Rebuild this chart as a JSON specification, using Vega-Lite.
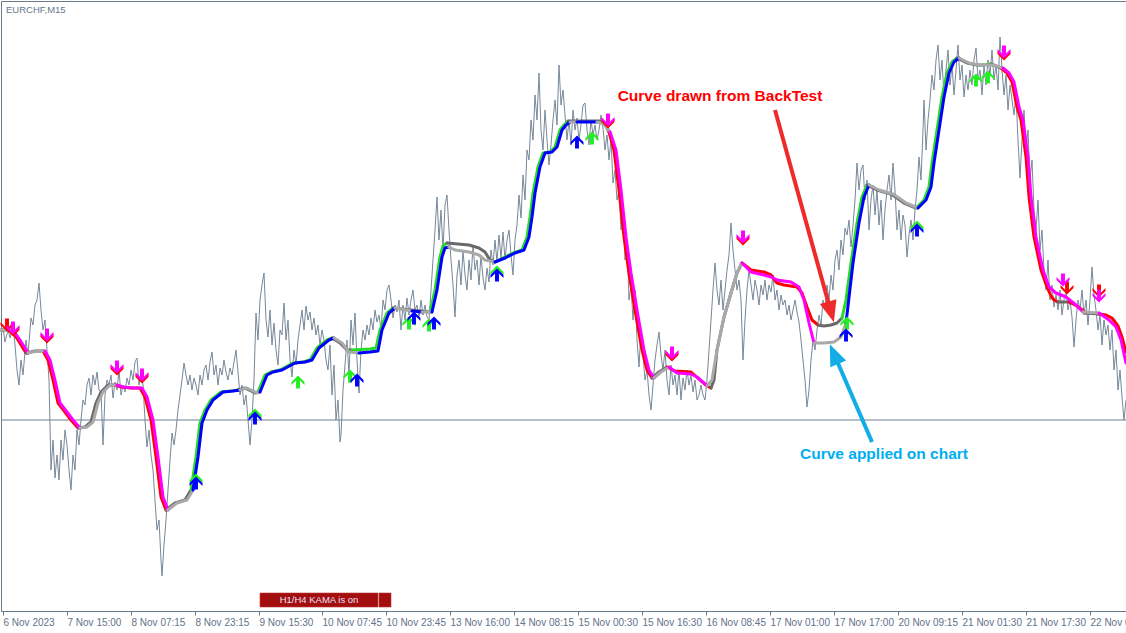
{
"$schema": "https://vega.github.io/schema/vega-lite/v6.json",
"width": 1125, "height": 610,
"autosize": {"type": "none"},
"padding": {"left": 1, "top": 1, "right": 0, "bottom": 22},
"background": "#ffffff",
"config": {"view": {"stroke": "#6c7b8b", "strokeWidth": 1}},
"resolve": {"scale": {"color": "independent"}},
"datasets": {
"levels": [{"x":1,"price": 0.96191}],
"price": [
{"x":1,"price":0.96276},{"x":3,"price":0.96283},{"x":5,"price":0.96269},{"x":8,"price":0.96281},{"x":10,"price":0.96273},{"x":13,"price":0.96285},{"x":15,"price":0.96266},{"x":17,"price":0.96241},{"x":19,"price":0.96226},{"x":21,"price":0.96251},{"x":23,"price":0.96236},{"x":26,"price":0.96271},{"x":28,"price":0.96256},{"x":31,"price":0.96293},{"x":33,"price":0.96286},{"x":35,"price":0.96306},{"x":37,"price":0.96311},{"x":39,"price":0.96328},{"x":41,"price":0.96301},{"x":43,"price":0.96281},{"x":45,"price":0.96291},{"x":47,"price":0.96261},{"x":49,"price":0.96231},{"x":51,"price":0.96141},{"x":53,"price":0.96171},{"x":55,"price":0.96133},{"x":57,"price":0.96156},{"x":59,"price":0.96131},{"x":61,"price":0.96171},{"x":63,"price":0.96151},{"x":65,"price":0.96181},{"x":67,"price":0.96166},{"x":69,"price":0.96141},{"x":71,"price":0.96121},{"x":73,"price":0.96156},{"x":75,"price":0.96141},{"x":77,"price":0.96181},{"x":79,"price":0.96166},{"x":81,"price":0.96191},{"x":83,"price":0.96211},{"x":85,"price":0.96206},{"x":87,"price":0.96226},{"x":89,"price":0.96233},{"x":91,"price":0.96216},{"x":93,"price":0.96236},{"x":95,"price":0.96226},{"x":97,"price":0.96239},{"x":99,"price":0.96221},{"x":101,"price":0.96219},{"x":103,"price":0.96166},{"x":105,"price":0.96216},{"x":107,"price":0.96231},{"x":109,"price":0.96226},{"x":111,"price":0.96236},{"x":113,"price":0.96213},{"x":115,"price":0.96229},{"x":117,"price":0.96221},{"x":119,"price":0.96241},{"x":121,"price":0.96216},{"x":123,"price":0.96226},{"x":125,"price":0.96219},{"x":127,"price":0.96233},{"x":129,"price":0.96226},{"x":131,"price":0.96241},{"x":133,"price":0.96231},{"x":135,"price":0.96249},{"x":137,"price":0.96253},{"x":139,"price":0.96226},{"x":141,"price":0.96239},{"x":143,"price":0.96226},{"x":145,"price":0.96191},{"x":147,"price":0.96164},{"x":149,"price":0.96181},{"x":151,"price":0.96156},{"x":153,"price":0.96141},{"x":155,"price":0.96111},{"x":157,"price":0.96081},{"x":159,"price":0.96091},{"x":161,"price":0.96051},{"x":162,"price":0.96035},{"x":164,"price":0.96066},{"x":166,"price":0.96091},{"x":168,"price":0.96121},{"x":170,"price":0.96151},{"x":172,"price":0.96178},{"x":174,"price":0.96166},{"x":176,"price":0.96181},{"x":178,"price":0.96201},{"x":180,"price":0.96216},{"x":182,"price":0.96231},{"x":184,"price":0.96248},{"x":186,"price":0.96236},{"x":188,"price":0.96226},{"x":190,"price":0.96236},{"x":192,"price":0.96221},{"x":194,"price":0.96233},{"x":196,"price":0.96226},{"x":198,"price":0.96216},{"x":200,"price":0.96236},{"x":202,"price":0.96226},{"x":204,"price":0.96241},{"x":206,"price":0.96246},{"x":208,"price":0.96231},{"x":210,"price":0.96249},{"x":212,"price":0.96259},{"x":214,"price":0.96236},{"x":216,"price":0.96246},{"x":218,"price":0.96226},{"x":220,"price":0.96243},{"x":222,"price":0.96236},{"x":224,"price":0.96251},{"x":226,"price":0.96239},{"x":228,"price":0.96231},{"x":230,"price":0.96243},{"x":232,"price":0.96236},{"x":234,"price":0.96249},{"x":236,"price":0.96261},{"x":238,"price":0.96239},{"x":240,"price":0.96216},{"x":242,"price":0.96226},{"x":244,"price":0.96206},{"x":246,"price":0.96216},{"x":248,"price":0.96191},{"x":250,"price":0.96166},{"x":252,"price":0.96191},{"x":254,"price":0.96231},{"x":256,"price":0.96298},{"x":258,"price":0.96271},{"x":260,"price":0.96311},{"x":262,"price":0.96326},{"x":264,"price":0.96338},{"x":266,"price":0.96291},{"x":268,"price":0.96274},{"x":270,"price":0.96301},{"x":272,"price":0.96266},{"x":274,"price":0.96288},{"x":276,"price":0.96261},{"x":278,"price":0.96246},{"x":280,"price":0.96281},
{"x":282,"price":0.96276},{"x":284,"price":0.96308},{"x":286,"price":0.96271},{"x":288,"price":0.96291},{"x":290,"price":0.96251},{"x":292,"price":0.96234},{"x":294,"price":0.96261},{"x":296,"price":0.96246},{"x":298,"price":0.96271},{"x":300,"price":0.96286},{"x":302,"price":0.96301},{"x":304,"price":0.96281},{"x":306,"price":0.96305},{"x":308,"price":0.96291},{"x":310,"price":0.96299},{"x":312,"price":0.96281},{"x":314,"price":0.96293},{"x":316,"price":0.96276},{"x":318,"price":0.96286},{"x":320,"price":0.96266},{"x":322,"price":0.96281},{"x":324,"price":0.96271},{"x":326,"price":0.96251},{"x":328,"price":0.96241},{"x":330,"price":0.96266},{"x":332,"price":0.96216},{"x":334,"price":0.96246},{"x":336,"price":0.96191},{"x":338,"price":0.96211},{"x":340,"price":0.96169},{"x":341,"price":0.96176},{"x":343,"price":0.96221},{"x":345,"price":0.96246},{"x":347,"price":0.96271},{"x":349,"price":0.96236},{"x":351,"price":0.96291},{"x":353,"price":0.96266},{"x":355,"price":0.96298},{"x":357,"price":0.96251},{"x":359,"price":0.96218},{"x":361,"price":0.96261},{"x":363,"price":0.96281},{"x":365,"price":0.96271},{"x":367,"price":0.96286},{"x":369,"price":0.96276},{"x":371,"price":0.96293},{"x":373,"price":0.96281},{"x":375,"price":0.96301},{"x":377,"price":0.96289},{"x":379,"price":0.96296},{"x":381,"price":0.96281},{"x":383,"price":0.96311},{"x":385,"price":0.96301},{"x":387,"price":0.96321},{"x":389,"price":0.96326},{"x":391,"price":0.96311},{"x":393,"price":0.96293},{"x":395,"price":0.96306},{"x":397,"price":0.96299},{"x":399,"price":0.96311},{"x":401,"price":0.96281},{"x":403,"price":0.96306},{"x":405,"price":0.96291},{"x":407,"price":0.96313},{"x":409,"price":0.96296},{"x":411,"price":0.96311},{"x":413,"price":0.96321},{"x":415,"price":0.96301},{"x":417,"price":0.96306},{"x":419,"price":0.96293},{"x":421,"price":0.96311},{"x":423,"price":0.96296},{"x":425,"price":0.96306},{"x":427,"price":0.96294},{"x":429,"price":0.96291},{"x":431,"price":0.96321},{"x":433,"price":0.96351},{"x":435,"price":0.96381},{"x":437,"price":0.96414},{"x":439,"price":0.96371},{"x":441,"price":0.96401},{"x":443,"price":0.96361},{"x":445,"price":0.96406},{"x":447,"price":0.96416},{"x":449,"price":0.96381},{"x":451,"price":0.96351},{"x":453,"price":0.96326},{"x":455,"price":0.96294},{"x":457,"price":0.96336},{"x":459,"price":0.96351},{"x":461,"price":0.96326},{"x":463,"price":0.96361},{"x":465,"price":0.96336},{"x":467,"price":0.96321},{"x":469,"price":0.96351},{"x":471,"price":0.96331},{"x":473,"price":0.96366},{"x":475,"price":0.96341},{"x":477,"price":0.96351},{"x":479,"price":0.96326},{"x":481,"price":0.96356},{"x":483,"price":0.96333},{"x":485,"price":0.96321},{"x":487,"price":0.96343},{"x":489,"price":0.96329},{"x":491,"price":0.96361},{"x":493,"price":0.96346},{"x":495,"price":0.96371},{"x":497,"price":0.96349},{"x":499,"price":0.96376},{"x":501,"price":0.96353},{"x":503,"price":0.96379},{"x":505,"price":0.96351},{"x":507,"price":0.96371},{"x":509,"price":0.96381},{"x":511,"price":0.96356},{"x":513,"price":0.96336},{"x":515,"price":0.96371},{"x":517,"price":0.96386},{"x":519,"price":0.96416},{"x":521,"price":0.96393},{"x":523,"price":0.96436},{"x":525,"price":0.96411},{"x":527,"price":0.96461},{"x":529,"price":0.96451},{"x":531,"price":0.96491},{"x":533,"price":0.96471},{"x":535,"price":0.96516},{"x":537,"price":0.96491},{"x":539,"price":0.96538},{"x":541,"price":0.96481},{"x":543,"price":0.96461},{"x":545,"price":0.96501},{"x":547,"price":0.96471},{"x":549,"price":0.96446},{"x":551,"price":0.96466},{"x":553,"price":0.96491},{"x":555,"price":0.96511},{"x":557,"price":0.96486},{"x":559,"price":0.96546},{"x":561,"price":0.96506},{"x":563,"price":0.96521},
{"x":565,"price":0.96496},{"x":567,"price":0.96471},{"x":569,"price":0.96491},{"x":571,"price":0.96466},{"x":573,"price":0.96501},{"x":575,"price":0.96481},{"x":577,"price":0.96493},{"x":579,"price":0.96471},{"x":581,"price":0.96486},{"x":583,"price":0.96506},{"x":585,"price":0.96508},{"x":587,"price":0.96481},{"x":589,"price":0.96466},{"x":591,"price":0.96491},{"x":593,"price":0.96476},{"x":595,"price":0.96486},{"x":597,"price":0.96471},{"x":599,"price":0.96481},{"x":601,"price":0.96496},{"x":603,"price":0.96483},{"x":605,"price":0.96461},{"x":607,"price":0.96476},{"x":609,"price":0.96451},{"x":611,"price":0.96471},{"x":613,"price":0.96428},{"x":615,"price":0.96441},{"x":617,"price":0.96411},{"x":619,"price":0.96421},{"x":621,"price":0.96381},{"x":623,"price":0.96396},{"x":625,"price":0.96351},{"x":627,"price":0.96371},{"x":629,"price":0.96311},{"x":631,"price":0.96326},{"x":633,"price":0.96291},{"x":635,"price":0.96321},{"x":637,"price":0.96271},{"x":639,"price":0.96244},{"x":641,"price":0.96281},{"x":643,"price":0.96256},{"x":645,"price":0.96231},{"x":647,"price":0.96241},{"x":649,"price":0.96216},{"x":651,"price":0.96201},{"x":653,"price":0.96226},{"x":655,"price":0.96251},{"x":657,"price":0.96266},{"x":659,"price":0.96279},{"x":661,"price":0.96256},{"x":663,"price":0.96241},{"x":665,"price":0.96261},{"x":667,"price":0.96231},{"x":669,"price":0.96216},{"x":671,"price":0.96246},{"x":673,"price":0.96226},{"x":675,"price":0.96236},{"x":677,"price":0.96216},{"x":679,"price":0.96241},{"x":681,"price":0.96211},{"x":683,"price":0.96233},{"x":685,"price":0.96221},{"x":687,"price":0.96241},{"x":689,"price":0.96226},{"x":691,"price":0.96236},{"x":693,"price":0.96219},{"x":695,"price":0.96231},{"x":697,"price":0.96211},{"x":699,"price":0.96216},{"x":701,"price":0.96226},{"x":703,"price":0.96216},{"x":705,"price":0.96211},{"x":707,"price":0.96231},{"x":709,"price":0.96261},{"x":711,"price":0.96291},{"x":713,"price":0.96321},{"x":715,"price":0.96348},{"x":717,"price":0.96321},{"x":719,"price":0.96306},{"x":721,"price":0.96331},{"x":723,"price":0.96301},{"x":725,"price":0.96321},{"x":727,"price":0.96341},{"x":729,"price":0.96356},{"x":731,"price":0.96388},{"x":733,"price":0.96361},{"x":735,"price":0.96341},{"x":737,"price":0.96321},{"x":739,"price":0.96331},{"x":741,"price":0.96311},{"x":743,"price":0.96251},{"x":745,"price":0.96291},{"x":747,"price":0.96321},{"x":749,"price":0.96341},{"x":751,"price":0.96326},{"x":753,"price":0.96311},{"x":755,"price":0.96331},{"x":757,"price":0.96321},{"x":759,"price":0.96306},{"x":761,"price":0.96326},{"x":763,"price":0.96316},{"x":765,"price":0.96331},{"x":767,"price":0.96311},{"x":769,"price":0.96326},{"x":771,"price":0.96319},{"x":773,"price":0.96336},{"x":775,"price":0.96311},{"x":777,"price":0.96321},{"x":779,"price":0.96301},{"x":781,"price":0.96316},{"x":783,"price":0.96306},{"x":785,"price":0.96311},{"x":787,"price":0.96296},{"x":789,"price":0.96306},{"x":791,"price":0.96291},{"x":793,"price":0.96301},{"x":795,"price":0.96311},{"x":797,"price":0.96299},{"x":799,"price":0.96289},{"x":801,"price":0.96271},{"x":803,"price":0.96251},{"x":805,"price":0.96231},{"x":807,"price":0.96204},{"x":809,"price":0.96221},{"x":811,"price":0.96251},{"x":813,"price":0.96271},{"x":815,"price":0.96261},{"x":817,"price":0.96281},{"x":819,"price":0.96296},{"x":821,"price":0.96286},{"x":823,"price":0.96311},{"x":825,"price":0.96301},{"x":827,"price":0.96326},{"x":829,"price":0.96311},{"x":831,"price":0.96336},{"x":833,"price":0.96321},{"x":835,"price":0.96351},{"x":837,"price":0.96361},{"x":839,"price":0.96341},{"x":841,"price":0.96371},{"x":843,"price":0.96356},{"x":845,"price":0.96383},
{"x":847,"price":0.96376},{"x":849,"price":0.96391},{"x":851,"price":0.96364},{"x":853,"price":0.96386},{"x":855,"price":0.96411},{"x":857,"price":0.96448},{"x":859,"price":0.96421},{"x":861,"price":0.96441},{"x":863,"price":0.96446},{"x":865,"price":0.96411},{"x":867,"price":0.96431},{"x":869,"price":0.96381},{"x":871,"price":0.96411},{"x":873,"price":0.96426},{"x":875,"price":0.96396},{"x":877,"price":0.96421},{"x":879,"price":0.96386},{"x":881,"price":0.96411},{"x":883,"price":0.96371},{"x":885,"price":0.96401},{"x":887,"price":0.96421},{"x":889,"price":0.96436},{"x":891,"price":0.96411},{"x":893,"price":0.96448},{"x":895,"price":0.96421},{"x":897,"price":0.96381},{"x":899,"price":0.96401},{"x":901,"price":0.96371},{"x":903,"price":0.96396},{"x":905,"price":0.96386},{"x":907,"price":0.96354},{"x":909,"price":0.96376},{"x":911,"price":0.96391},{"x":913,"price":0.96371},{"x":915,"price":0.96401},{"x":917,"price":0.96421},{"x":919,"price":0.96454},{"x":921,"price":0.96431},{"x":923,"price":0.96481},{"x":924,"price":0.96511},{"x":926,"price":0.96461},{"x":928,"price":0.96491},{"x":930,"price":0.96511},{"x":932,"price":0.96536},{"x":934,"price":0.96521},{"x":936,"price":0.96551},{"x":938,"price":0.96566},{"x":940,"price":0.96531},{"x":942,"price":0.96551},{"x":944,"price":0.96514},{"x":946,"price":0.96541},{"x":948,"price":0.96561},{"x":950,"price":0.96526},{"x":952,"price":0.96546},{"x":954,"price":0.96516},{"x":956,"price":0.96541},{"x":958,"price":0.96566},{"x":960,"price":0.96531},{"x":962,"price":0.96546},{"x":964,"price":0.96514},{"x":966,"price":0.96536},{"x":968,"price":0.96521},{"x":970,"price":0.96541},{"x":972,"price":0.96526},{"x":974,"price":0.96551},{"x":976,"price":0.96563},{"x":978,"price":0.96531},{"x":980,"price":0.96541},{"x":982,"price":0.96516},{"x":984,"price":0.96546},{"x":986,"price":0.96526},{"x":988,"price":0.96551},{"x":990,"price":0.96536},{"x":992,"price":0.96561},{"x":994,"price":0.96531},{"x":996,"price":0.96546},{"x":998,"price":0.96521},{"x":1000,"price":0.96574},{"x":1002,"price":0.96541},{"x":1004,"price":0.96516},{"x":1006,"price":0.96536},{"x":1008,"price":0.96501},{"x":1010,"price":0.96526},{"x":1012,"price":0.96511},{"x":1014,"price":0.96496},{"x":1016,"price":0.96516},{"x":1018,"price":0.96471},{"x":1020,"price":0.96433},{"x":1022,"price":0.96471},{"x":1024,"price":0.96501},{"x":1026,"price":0.96461},{"x":1028,"price":0.96481},{"x":1030,"price":0.96431},{"x":1032,"price":0.96451},{"x":1034,"price":0.96401},{"x":1036,"price":0.96381},{"x":1038,"price":0.96411},{"x":1040,"price":0.96361},{"x":1042,"price":0.96381},{"x":1044,"price":0.96341},{"x":1046,"price":0.96321},{"x":1048,"price":0.96351},{"x":1050,"price":0.96311},{"x":1052,"price":0.96326},{"x":1054,"price":0.96304},{"x":1056,"price":0.96316},{"x":1058,"price":0.96301},{"x":1060,"price":0.96321},{"x":1062,"price":0.96296},{"x":1064,"price":0.96311},{"x":1066,"price":0.96321},{"x":1068,"price":0.96301},{"x":1070,"price":0.96311},{"x":1072,"price":0.96294},{"x":1074,"price":0.96264},{"x":1076,"price":0.96291},{"x":1078,"price":0.96311},{"x":1080,"price":0.96301},{"x":1082,"price":0.96321},{"x":1084,"price":0.96296},{"x":1086,"price":0.96311},{"x":1088,"price":0.96286},{"x":1090,"price":0.96311},{"x":1092,"price":0.96344},{"x":1094,"price":0.96316},{"x":1096,"price":0.96301},{"x":1098,"price":0.96281},{"x":1100,"price":0.96296},{"x":1102,"price":0.96266},{"x":1104,"price":0.96291},{"x":1106,"price":0.96276},{"x":1108,"price":0.96286},{"x":1110,"price":0.96261},{"x":1112,"price":0.96281},{"x":1114,"price":0.96241},{"x":1116,"price":0.96261},{"x":1118,"price":0.96221},{"x":1120,"price":0.96241},{"x":1122,"price":0.96214},{"x":1124,"price":0.96191},{"x":1126,"price":0.96211}
],
"kama_backtest": [
{"seg":1,"state":"flat","x":1,"price":0.96281},{"seg":1,"state":"flat","x":11,"price":0.96281},
{"seg":2,"state":"down","x":11,"price":0.96281},{"seg":2,"state":"down","x":18,"price":0.96271},{"seg":2,"state":"down","x":26,"price":0.96258},
{"seg":3,"state":"flat","x":26,"price":0.96258},{"seg":3,"state":"flat","x":35,"price":0.96260},{"seg":3,"state":"flat","x":43,"price":0.96260},
{"seg":4,"state":"down","x":43,"price":0.96260},{"seg":4,"state":"down","x":48,"price":0.96251},{"seg":4,"state":"down","x":53,"price":0.96231},{"seg":4,"state":"down","x":58,"price":0.96208},{"seg":4,"state":"down","x":65,"price":0.96199},{"seg":4,"state":"down","x":71,"price":0.96191},{"seg":4,"state":"down","x":78,"price":0.96183},
{"seg":5,"state":"flat","x":78,"price":0.96183},{"seg":5,"state":"flat","x":85,"price":0.96184},{"seg":5,"state":"flat","x":91,"price":0.96189},{"seg":5,"state":"flat","x":96,"price":0.96208},{"seg":5,"state":"flat","x":101,"price":0.96219},{"seg":5,"state":"flat","x":108,"price":0.96226},{"seg":5,"state":"flat","x":115,"price":0.96226},
{"seg":6,"state":"down","x":115,"price":0.96226},{"seg":6,"state":"down","x":121,"price":0.96224},{"seg":6,"state":"down","x":131,"price":0.96223},{"seg":6,"state":"down","x":140,"price":0.96223},{"seg":6,"state":"down","x":145,"price":0.96214},{"seg":6,"state":"down","x":151,"price":0.96191},{"seg":6,"state":"down","x":156,"price":0.96154},{"seg":6,"state":"down","x":161,"price":0.96114},{"seg":6,"state":"down","x":166,"price":0.96101},
{"seg":7,"state":"flat","x":166,"price":0.96101},{"seg":7,"state":"flat","x":175,"price":0.96108},{"seg":7,"state":"flat","x":185,"price":0.96111},{"seg":7,"state":"flat","x":191,"price":0.96121},
{"seg":8,"state":"up","x":191,"price":0.96121},{"seg":8,"state":"up","x":196,"price":0.96154},{"seg":8,"state":"up","x":200,"price":0.96188},{"seg":8,"state":"up","x":205,"price":0.96201},{"seg":8,"state":"up","x":211,"price":0.96211},{"seg":8,"state":"up","x":221,"price":0.96219},{"seg":8,"state":"up","x":231,"price":0.96220},{"seg":8,"state":"up","x":238,"price":0.96221},
{"seg":9,"state":"flat","x":238,"price":0.96221},{"seg":9,"state":"flat","x":245,"price":0.96223},{"seg":9,"state":"flat","x":255,"price":0.96218},{"seg":9,"state":"flat","x":258,"price":0.96219},
{"seg":10,"state":"up","x":258,"price":0.96219},{"seg":10,"state":"up","x":265,"price":0.96236},{"seg":10,"state":"up","x":271,"price":0.96239},{"seg":10,"state":"up","x":280,"price":0.96241},{"seg":10,"state":"up","x":293,"price":0.96248},{"seg":10,"state":"up","x":303,"price":0.96249},{"seg":10,"state":"up","x":310,"price":0.96251},{"seg":10,"state":"up","x":317,"price":0.96263},{"seg":10,"state":"up","x":327,"price":0.96271},{"seg":10,"state":"up","x":332,"price":0.96273},
{"seg":11,"state":"flat","x":332,"price":0.96273},{"seg":11,"state":"flat","x":340,"price":0.96268},{"seg":11,"state":"flat","x":347,"price":0.96261},{"seg":11,"state":"flat","x":352,"price":0.96261},
{"seg":12,"state":"up","x":352,"price":0.96261},{"seg":12,"state":"up","x":370,"price":0.96262},{"seg":12,"state":"up","x":376,"price":0.96263},{"seg":12,"state":"up","x":380,"price":0.96281},{"seg":12,"state":"up","x":387,"price":0.96298},{"seg":12,"state":"up","x":393,"price":0.96303},
{"seg":13,"state":"flat","x":393,"price":0.96303},{"seg":13,"state":"flat","x":420,"price":0.96300},{"seg":13,"state":"flat","x":430,"price":0.96299},
{"seg":14,"state":"up","x":430,"price":0.96299},{"seg":14,"state":"up","x":435,"price":0.96321},{"seg":14,"state":"up","x":440,"price":0.96354},{"seg":14,"state":"up","x":443,"price":0.96365},{"seg":14,"state":"up","x":447,"price":0.96368},
{"seg":15,"state":"flat","x":447,"price":0.96368},{"seg":15,"state":"flat","x":469,"price":0.96366},{"seg":15,"state":"flat","x":479,"price":0.96363},{"seg":15,"state":"flat","x":485,"price":0.96359},{"seg":15,"state":"flat","x":490,"price":0.96351},{"seg":15,"state":"flat","x":495,"price":0.96349},
{"seg":16,"state":"up","x":495,"price":0.96349},{"seg":16,"state":"up","x":503,"price":0.96353},{"seg":16,"state":"up","x":513,"price":0.96358},{"seg":16,"state":"up","x":522,"price":0.96361},{"seg":16,"state":"up","x":527,"price":0.96374},{"seg":16,"state":"up","x":530,"price":0.96394},{"seg":16,"state":"up","x":533,"price":0.96418},{"seg":16,"state":"up","x":538,"price":0.96444},{"seg":16,"state":"up","x":543,"price":0.96458},{"seg":16,"state":"up","x":550,"price":0.96459},{"seg":16,"state":"up","x":555,"price":0.96464},{"seg":16,"state":"up","x":560,"price":0.96481},{"seg":16,"state":"up","x":564,"price":0.96486},{"seg":16,"state":"up","x":568,"price":0.96490},
{"seg":17,"state":"flat","x":568,"price":0.96490},{"seg":17,"state":"flat","x":600,"price":0.96490},{"seg":17,"state":"flat","x":606,"price":0.96485},{"seg":17,"state":"flat","x":609,"price":0.96479},
{"seg":18,"state":"down","x":609,"price":0.96479},{"seg":18,"state":"down","x":614,"price":0.96461},{"seg":18,"state":"down","x":619,"price":0.96421},{"seg":18,"state":"down","x":624,"price":0.96374},{"seg":18,"state":"down","x":629,"price":0.96338},{"seg":18,"state":"down","x":635,"price":0.96301},{"seg":18,"state":"down","x":642,"price":0.96261},{"seg":18,"state":"down","x":647,"price":0.96241},{"seg":18,"state":"down","x":652,"price":0.96233},
{"seg":19,"state":"flat","x":652,"price":0.96233},{"seg":19,"state":"flat","x":659,"price":0.96239},{"seg":19,"state":"flat","x":667,"price":0.96244},
{"seg":20,"state":"down","x":667,"price":0.96244},{"seg":20,"state":"down","x":675,"price":0.96240},{"seg":20,"state":"down","x":691,"price":0.96239},{"seg":20,"state":"down","x":700,"price":0.96231},{"seg":20,"state":"down","x":707,"price":0.96225},{"seg":20,"state":"down","x":711,"price":0.96223},
{"seg":21,"state":"flat","x":711,"price":0.96223},{"seg":21,"state":"flat","x":714,"price":0.96231},{"seg":21,"state":"flat","x":717,"price":0.96261},{"seg":21,"state":"flat","x":724,"price":0.96294},{"seg":21,"state":"flat","x":731,"price":0.96318},{"seg":21,"state":"flat","x":737,"price":0.96338},{"seg":21,"state":"flat","x":742,"price":0.96348},
{"seg":22,"state":"down","x":742,"price":0.96348},{"seg":22,"state":"down","x":751,"price":0.96341},{"seg":22,"state":"down","x":764,"price":0.96339},{"seg":22,"state":"down","x":771,"price":0.96336},{"seg":22,"state":"down","x":777,"price":0.96328},{"seg":22,"state":"down","x":784,"price":0.96326},{"seg":22,"state":"down","x":797,"price":0.96324},{"seg":22,"state":"down","x":802,"price":0.96318},{"seg":22,"state":"down","x":807,"price":0.96304},{"seg":22,"state":"down","x":812,"price":0.96291},{"seg":22,"state":"down","x":818,"price":0.96286},
{"seg":23,"state":"flat","x":818,"price":0.96286},{"seg":23,"state":"flat","x":824,"price":0.96285},{"seg":23,"state":"flat","x":831,"price":0.96286},{"seg":23,"state":"flat","x":837,"price":0.96288},{"seg":23,"state":"flat","x":842,"price":0.96293},
{"seg":24,"state":"up","x":842,"price":0.96293},{"seg":24,"state":"up","x":846,"price":0.96311},{"seg":24,"state":"up","x":851,"price":0.96348},{"seg":24,"state":"up","x":857,"price":0.96388},{"seg":24,"state":"up","x":862,"price":0.96414},{"seg":24,"state":"up","x":867,"price":0.96426},
{"seg":25,"state":"flat","x":867,"price":0.96426},{"seg":25,"state":"flat","x":877,"price":0.96421},{"seg":25,"state":"flat","x":891,"price":0.96417},{"seg":25,"state":"flat","x":897,"price":0.96413},{"seg":25,"state":"flat","x":904,"price":0.96408},{"seg":25,"state":"flat","x":916,"price":0.96403},
{"seg":26,"state":"up","x":916,"price":0.96403},{"seg":26,"state":"up","x":924,"price":0.96411},{"seg":26,"state":"up","x":929,"price":0.96424},{"seg":26,"state":"up","x":932,"price":0.96448},{"seg":26,"state":"up","x":937,"price":0.96481},{"seg":26,"state":"up","x":942,"price":0.96514},{"seg":26,"state":"up","x":947,"price":0.96538},{"seg":26,"state":"up","x":952,"price":0.96549},{"seg":26,"state":"up","x":957,"price":0.96553},
{"seg":27,"state":"flat","x":957,"price":0.96553},{"seg":27,"state":"flat","x":967,"price":0.96548},{"seg":27,"state":"flat","x":977,"price":0.96546},{"seg":27,"state":"flat","x":983,"price":0.96546},
{"seg":28,"state":"up","x":983,"price":0.96546},{"seg":28,"state":"up","x":991,"price":0.96547},
{"seg":29,"state":"flat","x":991,"price":0.96547},{"seg":29,"state":"flat","x":1001,"price":0.96543},
{"seg":30,"state":"down","x":1001,"price":0.96543},{"seg":30,"state":"down","x":1007,"price":0.96538},{"seg":30,"state":"down","x":1012,"price":0.96529},{"seg":30,"state":"down","x":1017,"price":0.96504},{"seg":30,"state":"down","x":1021,"price":0.96491},{"seg":30,"state":"down","x":1026,"price":0.96454},{"seg":30,"state":"down","x":1029,"price":0.96414},{"seg":30,"state":"down","x":1034,"price":0.96374},{"seg":30,"state":"down","x":1041,"price":0.96341},{"seg":30,"state":"down","x":1047,"price":0.96324},{"seg":30,"state":"down","x":1051,"price":0.96315},{"seg":30,"state":"down","x":1054,"price":0.96311},{"seg":30,"state":"down","x":1058,"price":0.96309},
{"seg":31,"state":"flat","x":1058,"price":0.96309},{"seg":31,"state":"flat","x":1069,"price":0.96309},
{"seg":32,"state":"down","x":1069,"price":0.96309},{"seg":32,"state":"down","x":1077,"price":0.96305},{"seg":32,"state":"down","x":1086,"price":0.96298},
{"seg":33,"state":"flat","x":1086,"price":0.96298},{"seg":33,"state":"flat","x":1099,"price":0.96297},
{"seg":34,"state":"down","x":1099,"price":0.96297},{"seg":34,"state":"down","x":1106,"price":0.96296},{"seg":34,"state":"down","x":1112,"price":0.96293},{"seg":34,"state":"down","x":1118,"price":0.96285},{"seg":34,"state":"down","x":1122,"price":0.96274},{"seg":34,"state":"down","x":1126,"price":0.96259}
],
"kama_applied": [
{"seg":1,"state":"flat","x":1,"price":0.96281},{"seg":1,"state":"flat","x":13,"price":0.96281},
{"seg":2,"state":"down","x":13,"price":0.96281},{"seg":2,"state":"down","x":20,"price":0.96271},{"seg":2,"state":"down","x":28,"price":0.96258},
{"seg":3,"state":"flat","x":28,"price":0.96258},{"seg":3,"state":"flat","x":37,"price":0.96260},{"seg":3,"state":"flat","x":45,"price":0.96260},
{"seg":4,"state":"down","x":45,"price":0.96260},{"seg":4,"state":"down","x":50,"price":0.96251},{"seg":4,"state":"down","x":55,"price":0.96231},{"seg":4,"state":"down","x":60,"price":0.96208},{"seg":4,"state":"down","x":67,"price":0.96199},{"seg":4,"state":"down","x":73,"price":0.96191},{"seg":4,"state":"down","x":80,"price":0.96183},
{"seg":5,"state":"flat","x":80,"price":0.96183},{"seg":5,"state":"flat","x":87,"price":0.96184},{"seg":5,"state":"flat","x":93,"price":0.96189},{"seg":5,"state":"flat","x":98,"price":0.96208},{"seg":5,"state":"flat","x":103,"price":0.96219},{"seg":5,"state":"flat","x":110,"price":0.96226},{"seg":5,"state":"flat","x":117,"price":0.96226},
{"seg":6,"state":"down","x":117,"price":0.96226},{"seg":6,"state":"down","x":123,"price":0.96224},{"seg":6,"state":"down","x":133,"price":0.96223},{"seg":6,"state":"down","x":142,"price":0.96223},{"seg":6,"state":"down","x":147,"price":0.96214},{"seg":6,"state":"down","x":153,"price":0.96191},{"seg":6,"state":"down","x":158,"price":0.96154},{"seg":6,"state":"down","x":163,"price":0.96114},{"seg":6,"state":"down","x":168,"price":0.96101},
{"seg":7,"state":"flat","x":168,"price":0.96101},{"seg":7,"state":"flat","x":177,"price":0.96108},{"seg":7,"state":"flat","x":187,"price":0.96111},{"seg":7,"state":"flat","x":193,"price":0.96121},
{"seg":8,"state":"up","x":193,"price":0.96121},{"seg":8,"state":"up","x":198,"price":0.96154},{"seg":8,"state":"up","x":202,"price":0.96188},{"seg":8,"state":"up","x":207,"price":0.96201},{"seg":8,"state":"up","x":213,"price":0.96211},{"seg":8,"state":"up","x":223,"price":0.96219},{"seg":8,"state":"up","x":233,"price":0.96220},{"seg":8,"state":"up","x":240,"price":0.96221},
{"seg":9,"state":"flat","x":240,"price":0.96221},{"seg":9,"state":"flat","x":247,"price":0.96223},{"seg":9,"state":"flat","x":257,"price":0.96218},{"seg":9,"state":"flat","x":260,"price":0.96219},
{"seg":10,"state":"up","x":260,"price":0.96219},{"seg":10,"state":"up","x":267,"price":0.96236},{"seg":10,"state":"up","x":273,"price":0.96239},{"seg":10,"state":"up","x":282,"price":0.96241},{"seg":10,"state":"up","x":295,"price":0.96248},{"seg":10,"state":"up","x":305,"price":0.96249},{"seg":10,"state":"up","x":312,"price":0.96251},{"seg":10,"state":"up","x":319,"price":0.96263},{"seg":10,"state":"up","x":329,"price":0.96271},{"seg":10,"state":"up","x":334,"price":0.96273},
{"seg":11,"state":"flat","x":334,"price":0.96273},{"seg":11,"state":"flat","x":342,"price":0.96268},{"seg":11,"state":"flat","x":349,"price":0.96259},{"seg":11,"state":"flat","x":359,"price":0.96258},
{"seg":12,"state":"up","x":359,"price":0.96258},{"seg":12,"state":"up","x":370,"price":0.96259},{"seg":12,"state":"up","x":378,"price":0.96260},{"seg":12,"state":"up","x":382,"price":0.96281},{"seg":12,"state":"up","x":389,"price":0.96298},{"seg":12,"state":"up","x":395,"price":0.96303},
{"seg":13,"state":"flat","x":395,"price":0.96303},{"seg":13,"state":"flat","x":412,"price":0.96300},
{"seg":14,"state":"up","x":412,"price":0.96300},{"seg":14,"state":"up","x":422,"price":0.96299},
{"seg":15,"state":"flat","x":422,"price":0.96299},{"seg":15,"state":"flat","x":432,"price":0.96299},
{"seg":16,"state":"up","x":432,"price":0.96299},{"seg":16,"state":"up","x":437,"price":0.96321},{"seg":16,"state":"up","x":442,"price":0.96354},{"seg":16,"state":"up","x":445,"price":0.96363},{"seg":16,"state":"up","x":449,"price":0.96364},
{"seg":17,"state":"flat","x":449,"price":0.96364},{"seg":17,"state":"flat","x":455,"price":0.96361},{"seg":17,"state":"flat","x":469,"price":0.96359},{"seg":17,"state":"flat","x":479,"price":0.96356},{"seg":17,"state":"flat","x":485,"price":0.96351},{"seg":17,"state":"flat","x":495,"price":0.96349},
{"seg":18,"state":"up","x":495,"price":0.96349},{"seg":18,"state":"up","x":505,"price":0.96353},{"seg":18,"state":"up","x":515,"price":0.96358},{"seg":18,"state":"up","x":524,"price":0.96361},{"seg":18,"state":"up","x":529,"price":0.96374},{"seg":18,"state":"up","x":532,"price":0.96394},{"seg":18,"state":"up","x":535,"price":0.96418},{"seg":18,"state":"up","x":540,"price":0.96444},{"seg":18,"state":"up","x":545,"price":0.96458},{"seg":18,"state":"up","x":552,"price":0.96459},{"seg":18,"state":"up","x":557,"price":0.96464},{"seg":18,"state":"up","x":562,"price":0.96481},{"seg":18,"state":"up","x":566,"price":0.96486},{"seg":18,"state":"up","x":570,"price":0.96489},
{"seg":19,"state":"flat","x":570,"price":0.96489},{"seg":19,"state":"flat","x":577,"price":0.96489},
{"seg":20,"state":"up","x":577,"price":0.96489},{"seg":20,"state":"up","x":597,"price":0.96489},
{"seg":21,"state":"flat","x":597,"price":0.96489},{"seg":21,"state":"flat","x":604,"price":0.96487},{"seg":21,"state":"flat","x":610,"price":0.96479},
{"seg":22,"state":"down","x":610,"price":0.96479},{"seg":22,"state":"down","x":611,"price":0.96476},{"seg":22,"state":"down","x":616,"price":0.96461},{"seg":22,"state":"down","x":621,"price":0.96421},{"seg":22,"state":"down","x":626,"price":0.96374},{"seg":22,"state":"down","x":631,"price":0.96338},{"seg":22,"state":"down","x":637,"price":0.96301},{"seg":22,"state":"down","x":644,"price":0.96261},{"seg":22,"state":"down","x":649,"price":0.96241},{"seg":22,"state":"down","x":654,"price":0.96233},
{"seg":23,"state":"flat","x":654,"price":0.96233},{"seg":23,"state":"flat","x":661,"price":0.96239},{"seg":23,"state":"flat","x":669,"price":0.96244},
{"seg":24,"state":"down","x":669,"price":0.96244},{"seg":24,"state":"down","x":677,"price":0.96238},{"seg":24,"state":"down","x":691,"price":0.96237},{"seg":24,"state":"down","x":697,"price":0.96234},{"seg":24,"state":"down","x":704,"price":0.96228},{"seg":24,"state":"down","x":707,"price":0.96225},
{"seg":25,"state":"flat","x":707,"price":0.96225},{"seg":25,"state":"flat","x":712,"price":0.96231},{"seg":25,"state":"flat","x":717,"price":0.96261},{"seg":25,"state":"flat","x":724,"price":0.96294},{"seg":25,"state":"flat","x":731,"price":0.96318},{"seg":25,"state":"flat","x":737,"price":0.96338},{"seg":25,"state":"flat","x":742,"price":0.96348},
{"seg":26,"state":"down","x":742,"price":0.96348},{"seg":26,"state":"down","x":751,"price":0.96339},{"seg":26,"state":"down","x":764,"price":0.96336},{"seg":26,"state":"down","x":771,"price":0.96334},{"seg":26,"state":"down","x":777,"price":0.96331},{"seg":26,"state":"down","x":791,"price":0.96329},{"seg":26,"state":"down","x":799,"price":0.96324},{"seg":26,"state":"down","x":804,"price":0.96311},{"seg":26,"state":"down","x":809,"price":0.96288},{"seg":26,"state":"down","x":814,"price":0.96268},
{"seg":27,"state":"flat","x":814,"price":0.96268},{"seg":27,"state":"flat","x":824,"price":0.96268},{"seg":27,"state":"flat","x":834,"price":0.96269},{"seg":27,"state":"flat","x":841,"price":0.96274},{"seg":27,"state":"flat","x":846,"price":0.96288},
{"seg":28,"state":"up","x":846,"price":0.96288},{"seg":28,"state":"up","x":853,"price":0.96348},{"seg":28,"state":"up","x":859,"price":0.96388},{"seg":28,"state":"up","x":864,"price":0.96414},{"seg":28,"state":"up","x":869,"price":0.96426},
{"seg":29,"state":"flat","x":869,"price":0.96426},{"seg":29,"state":"flat","x":879,"price":0.96421},{"seg":29,"state":"flat","x":893,"price":0.96417},{"seg":29,"state":"flat","x":899,"price":0.96413},{"seg":29,"state":"flat","x":906,"price":0.96408},{"seg":29,"state":"flat","x":918,"price":0.96403},
{"seg":30,"state":"up","x":918,"price":0.96403},{"seg":30,"state":"up","x":926,"price":0.96411},{"seg":30,"state":"up","x":931,"price":0.96424},{"seg":30,"state":"up","x":934,"price":0.96448},{"seg":30,"state":"up","x":939,"price":0.96481},{"seg":30,"state":"up","x":944,"price":0.96514},{"seg":30,"state":"up","x":949,"price":0.96538},{"seg":30,"state":"up","x":954,"price":0.96549},{"seg":30,"state":"up","x":959,"price":0.96553},
{"seg":31,"state":"flat","x":959,"price":0.96553},{"seg":31,"state":"flat","x":969,"price":0.96548},{"seg":31,"state":"flat","x":979,"price":0.96546},{"seg":31,"state":"flat","x":993,"price":0.96546},{"seg":31,"state":"flat","x":1003,"price":0.96543},
{"seg":32,"state":"down","x":1003,"price":0.96543},{"seg":32,"state":"down","x":1009,"price":0.96538},{"seg":32,"state":"down","x":1014,"price":0.96529},{"seg":32,"state":"down","x":1019,"price":0.96504},{"seg":32,"state":"down","x":1023,"price":0.96491},{"seg":32,"state":"down","x":1028,"price":0.96454},{"seg":32,"state":"down","x":1031,"price":0.96414},{"seg":32,"state":"down","x":1036,"price":0.96374},{"seg":32,"state":"down","x":1043,"price":0.96341},{"seg":32,"state":"down","x":1049,"price":0.96324},{"seg":32,"state":"down","x":1056,"price":0.96318},{"seg":32,"state":"down","x":1066,"price":0.96314},{"seg":32,"state":"down","x":1076,"price":0.96306},{"seg":32,"state":"down","x":1083,"price":0.96299},
{"seg":33,"state":"flat","x":1083,"price":0.96299},{"seg":33,"state":"flat","x":1099,"price":0.96298},
{"seg":34,"state":"down","x":1099,"price":0.96298},{"seg":34,"state":"down","x":1109,"price":0.96291},{"seg":34,"state":"down","x":1116,"price":0.96284},{"seg":34,"state":"down","x":1121,"price":0.96271},{"seg":34,"state":"down","x":1126,"price":0.96248}
],
"signals": [
{"curve":"backtest","dir":"down","x":7,"price":0.96286},{"curve":"backtest","dir":"down","x":13,"price":0.96281},{"curve":"backtest","dir":"down","x":47,"price":0.96274},{"curve":"backtest","dir":"down","x":117,"price":0.96242},{"curve":"backtest","dir":"down","x":142,"price":0.96234},{"curve":"backtest","dir":"down","x":608,"price":0.96489},{"curve":"backtest","dir":"down","x":672,"price":0.96256},{"curve":"backtest","dir":"down","x":743,"price":0.96372},{"curve":"backtest","dir":"down","x":1004,"price":0.96557},{"curve":"backtest","dir":"down","x":1067,"price":0.96323},{"curve":"backtest","dir":"down","x":1099,"price":0.96320},
{"curve":"backtest","dir":"up","x":196,"price":0.96131},{"curve":"backtest","dir":"up","x":255,"price":0.96196},{"curve":"backtest","dir":"up","x":298,"price":0.96229},{"curve":"backtest","dir":"up","x":350,"price":0.96235},{"curve":"backtest","dir":"up","x":409,"price":0.96288},{"curve":"backtest","dir":"up","x":429,"price":0.96286},{"curve":"backtest","dir":"up","x":497,"price":0.96339},{"curve":"backtest","dir":"up","x":592,"price":0.96473},{"curve":"backtest","dir":"up","x":847,"price":0.96288},{"curve":"backtest","dir":"up","x":917,"price":0.96384},{"curve":"backtest","dir":"up","x":976,"price":0.96531},{"curve":"backtest","dir":"up","x":988,"price":0.96534},
{"curve":"applied","dir":"down","x":13,"price":0.96283},{"curve":"applied","dir":"down","x":47,"price":0.96276},{"curve":"applied","dir":"down","x":117,"price":0.96244},{"curve":"applied","dir":"down","x":142,"price":0.96236},{"curve":"applied","dir":"down","x":608,"price":0.96491},{"curve":"applied","dir":"down","x":672,"price":0.96258},{"curve":"applied","dir":"down","x":743,"price":0.96374},{"curve":"applied","dir":"down","x":1004,"price":0.96559},{"curve":"applied","dir":"down","x":1063,"price":0.96331},{"curve":"applied","dir":"down","x":1099,"price":0.96315},
{"curve":"applied","dir":"up","x":196,"price":0.96128},{"curve":"applied","dir":"up","x":255,"price":0.96193},{"curve":"applied","dir":"up","x":357,"price":0.96231},{"curve":"applied","dir":"up","x":414,"price":0.96293},{"curve":"applied","dir":"up","x":434,"price":0.96288},{"curve":"applied","dir":"up","x":497,"price":0.96336},{"curve":"applied","dir":"up","x":577,"price":0.96469},{"curve":"applied","dir":"up","x":846,"price":0.96276},{"curve":"applied","dir":"up","x":917,"price":0.96381}
],
"notes": [
{"note":"Curve drawn from BackTest","kind":"backtest","x":720,"price":0.96515,"x_start":775,"price_start":0.96501,"x_end":831,"price_end":0.96299},
{"note":"Curve applied on chart","kind":"applied","x":884,"price":0.96157,"x_start":872,"price_start":0.96169,"x_end":834,"price_end":0.96257}
],
"status": [
{"part":"label","text":"H1/H4 KAMA is on","x":260,"x_end":378,"price":0.96018,"price_end":0.96004,"tx":319,"tprice":0.96011},
{"part":"icon","text":"","x":379,"x_end":391,"price":0.96018,"price_end":0.96004,"tx":385,"tprice":0.96011}
],
"symbol": [{"text":"EURCHF,M15","x":6,"price":0.96601}]
},
"layer": [
{"data":{"name":"price"},"mark":{"type":"line","color":"#778899","strokeWidth":1},
 "encoding":{
  "x":{"field":"x","type":"quantitative","title":null,"scale":{"domain":[1,1126],"nice":false,"zero":false},
   "axis":{"title":null,"grid":false,"values":[3,67,131,195,259,322,386,450,514,578,642,706,770,834,898,962,1026,1090],
    "labelExpr":"['6 Nov 2023','7 Nov 15:00','8 Nov 07:15','8 Nov 23:15','9 Nov 15:30','10 Nov 07:45','10 Nov 23:45','13 Nov 16:00','14 Nov 08:15','15 Nov 00:30','15 Nov 16:30','16 Nov 08:45','17 Nov 01:00','17 Nov 17:00','20 Nov 09:15','21 Nov 01:30','21 Nov 17:30','22 Nov 09:45'][indexof([3,67,131,195,259,322,386,450,514,578,642,706,770,834,898,962,1026,1090], datum.value)]",
    "domainColor":"#6c7b8b","domainWidth":1,"tickColor":"#6c7b8b","tickSize":4,"tickWidth":1,
    "labelColor":"#62738a","labelFont":"Liberation Sans","labelFontSize":10,"labelAlign":"left","labelBaseline":"top","labelPadding":2,
    "labelOverlap":false,"labelFlush":false,"labelBound":false}},
  "y":{"field":"price","type":"quantitative","scale":{"domain":[0.96,0.9661],"nice":false,"zero":false},"axis":null}}},
{"data":{"name":"levels"},"mark":{"type":"rule","color":"#6f8090","strokeWidth":1},
 "encoding":{"y":{"field":"price","type":"quantitative","axis":null}}},
{"data":{"name":"kama_backtest"},"mark":{"type":"line","strokeWidth":3,"strokeCap":"round","strokeJoin":"round"},
 "encoding":{"x":{"field":"x","type":"quantitative","title":null},"y":{"field":"price","type":"quantitative","axis":null},
  "color":{"field":"state","type":"nominal","scale":{"domain":["down","flat","up"],"range":["#ff0000","#696969","#22dd22"]},"legend":null},
  "detail":{"field":"seg","type":"nominal"}}},
{"data":{"name":"kama_applied"},"mark":{"type":"line","strokeWidth":3,"strokeCap":"round","strokeJoin":"round"},
 "encoding":{"x":{"field":"x","type":"quantitative","title":null},"y":{"field":"price","type":"quantitative","axis":null},
  "color":{"field":"state","type":"nominal","scale":{"domain":["down","flat","up"],"range":["#ff00ff","#a9a9a9","#0000ff"]},"legend":null},
  "detail":{"field":"seg","type":"nominal"}}},
{"data":{"name":"signals"},"transform":[{"filter":"datum.curve=='backtest' && datum.dir=='down'"}],
 "mark":{"type":"point","shape":"M0,1 L1,0 L1,-0.45 L0.3,0.25 L0.3,-1 L-0.3,-1 L-0.3,0.25 L-1,-0.45 L-1,0 Z","filled":true,"size":169,"opacity":1,"color":"#ff0000"},
 "encoding":{"x":{"field":"x","type":"quantitative","title":null},"y":{"field":"price","type":"quantitative","axis":null}}},
{"data":{"name":"signals"},"transform":[{"filter":"datum.curve=='backtest' && datum.dir=='up'"}],
 "mark":{"type":"point","shape":"M0,-1 L1,0 L1,0.45 L0.3,-0.25 L0.3,1 L-0.3,1 L-0.3,-0.25 L-1,0.45 L-1,0 Z","filled":true,"size":169,"opacity":1,"color":"#22ee22"},
 "encoding":{"x":{"field":"x","type":"quantitative","title":null},"y":{"field":"price","type":"quantitative","axis":null}}},
{"data":{"name":"signals"},"transform":[{"filter":"datum.curve=='applied' && datum.dir=='down'"}],
 "mark":{"type":"point","shape":"M0,1 L1,0 L1,-0.45 L0.3,0.25 L0.3,-1 L-0.3,-1 L-0.3,0.25 L-1,-0.45 L-1,0 Z","filled":true,"size":169,"opacity":1,"color":"#ff00ff"},
 "encoding":{"x":{"field":"x","type":"quantitative","title":null},"y":{"field":"price","type":"quantitative","axis":null}}},
{"data":{"name":"signals"},"transform":[{"filter":"datum.curve=='applied' && datum.dir=='up'"}],
 "mark":{"type":"point","shape":"M0,-1 L1,0 L1,0.45 L0.3,-0.25 L0.3,1 L-0.3,1 L-0.3,-0.25 L-1,0.45 L-1,0 Z","filled":true,"size":169,"opacity":1,"color":"#0000ff"},
 "encoding":{"x":{"field":"x","type":"quantitative","title":null},"y":{"field":"price","type":"quantitative","axis":null}}},
{"data":{"name":"notes"},"transform":[{"filter":"datum.kind=='backtest'"}],
 "mark":{"type":"rule","color":"#ee2a2a","strokeWidth":4},
 "encoding":{"x":{"field":"x_start","type":"quantitative","title":null},"y":{"field":"price_start","type":"quantitative","axis":null},"x2":{"field":"x_end"},"y2":{"field":"price_end"}}},
{"data":{"name":"notes"},"transform":[{"filter":"datum.kind=='backtest'"}],
 "mark":{"type":"point","shape":"M-0.8,-1 L0.8,-1 L0,1 Z","filled":true,"size":460,"opacity":1,"color":"#ee2a2a","angle":344.5},
 "encoding":{"x":{"field":"x_end","type":"quantitative","title":null},"y":{"field":"price_end","type":"quantitative","axis":null}}},
{"data":{"name":"notes"},"transform":[{"filter":"datum.kind=='applied'"}],
 "mark":{"type":"rule","color":"#12ace6","strokeWidth":4},
 "encoding":{"x":{"field":"x_start","type":"quantitative","title":null},"y":{"field":"price_start","type":"quantitative","axis":null},"x2":{"field":"x_end"},"y2":{"field":"price_end"}}},
{"data":{"name":"notes"},"transform":[{"filter":"datum.kind=='applied'"}],
 "mark":{"type":"point","shape":"M-0.8,-1 L0.8,-1 L0,1 Z","filled":true,"size":460,"opacity":1,"color":"#12ace6","angle":156.7},
 "encoding":{"x":{"field":"x_end","type":"quantitative","title":null},"y":{"field":"price_end","type":"quantitative","axis":null}}},
{"data":{"name":"notes"},"transform":[{"filter":"datum.kind=='backtest'"}],
 "mark":{"type":"text","color":"#ff0000","font":"Liberation Sans","fontSize":15.5,"fontWeight":"bold","align":"center","baseline":"middle"},
 "encoding":{"x":{"field":"x","type":"quantitative","title":null},"y":{"field":"price","type":"quantitative","axis":null},"text":{"field":"note"}}},
{"data":{"name":"notes"},"transform":[{"filter":"datum.kind=='applied'"}],
 "mark":{"type":"text","color":"#00aeef","font":"Liberation Sans","fontSize":15.5,"fontWeight":"bold","align":"center","baseline":"middle"},
 "encoding":{"x":{"field":"x","type":"quantitative","title":null},"y":{"field":"price","type":"quantitative","axis":null},"text":{"field":"note"}}},
{"data":{"name":"status"},"mark":{"type":"rect","color":"#a30e0e","stroke":"#c03a3a","strokeWidth":0.6},
 "encoding":{"x":{"field":"x","type":"quantitative","title":null},"x2":{"field":"x_end"},"y":{"field":"price","type":"quantitative","axis":null},"y2":{"field":"price_end"}}},
{"data":{"name":"status"},"mark":{"type":"text","color":"#ece2ff","font":"Liberation Sans","fontSize":9.5,"align":"center","baseline":"middle"},
 "encoding":{"x":{"field":"tx","type":"quantitative","title":null},"y":{"field":"tprice","type":"quantitative","axis":null},"text":{"field":"text"}}},
{"data":{"name":"symbol"},"mark":{"type":"text","color":"#65768a","font":"Liberation Sans","fontSize":9.5,"align":"left","baseline":"middle"},
 "encoding":{"x":{"field":"x","type":"quantitative","title":null},"y":{"field":"price","type":"quantitative","axis":null},"text":{"field":"text"}}}
]
}
